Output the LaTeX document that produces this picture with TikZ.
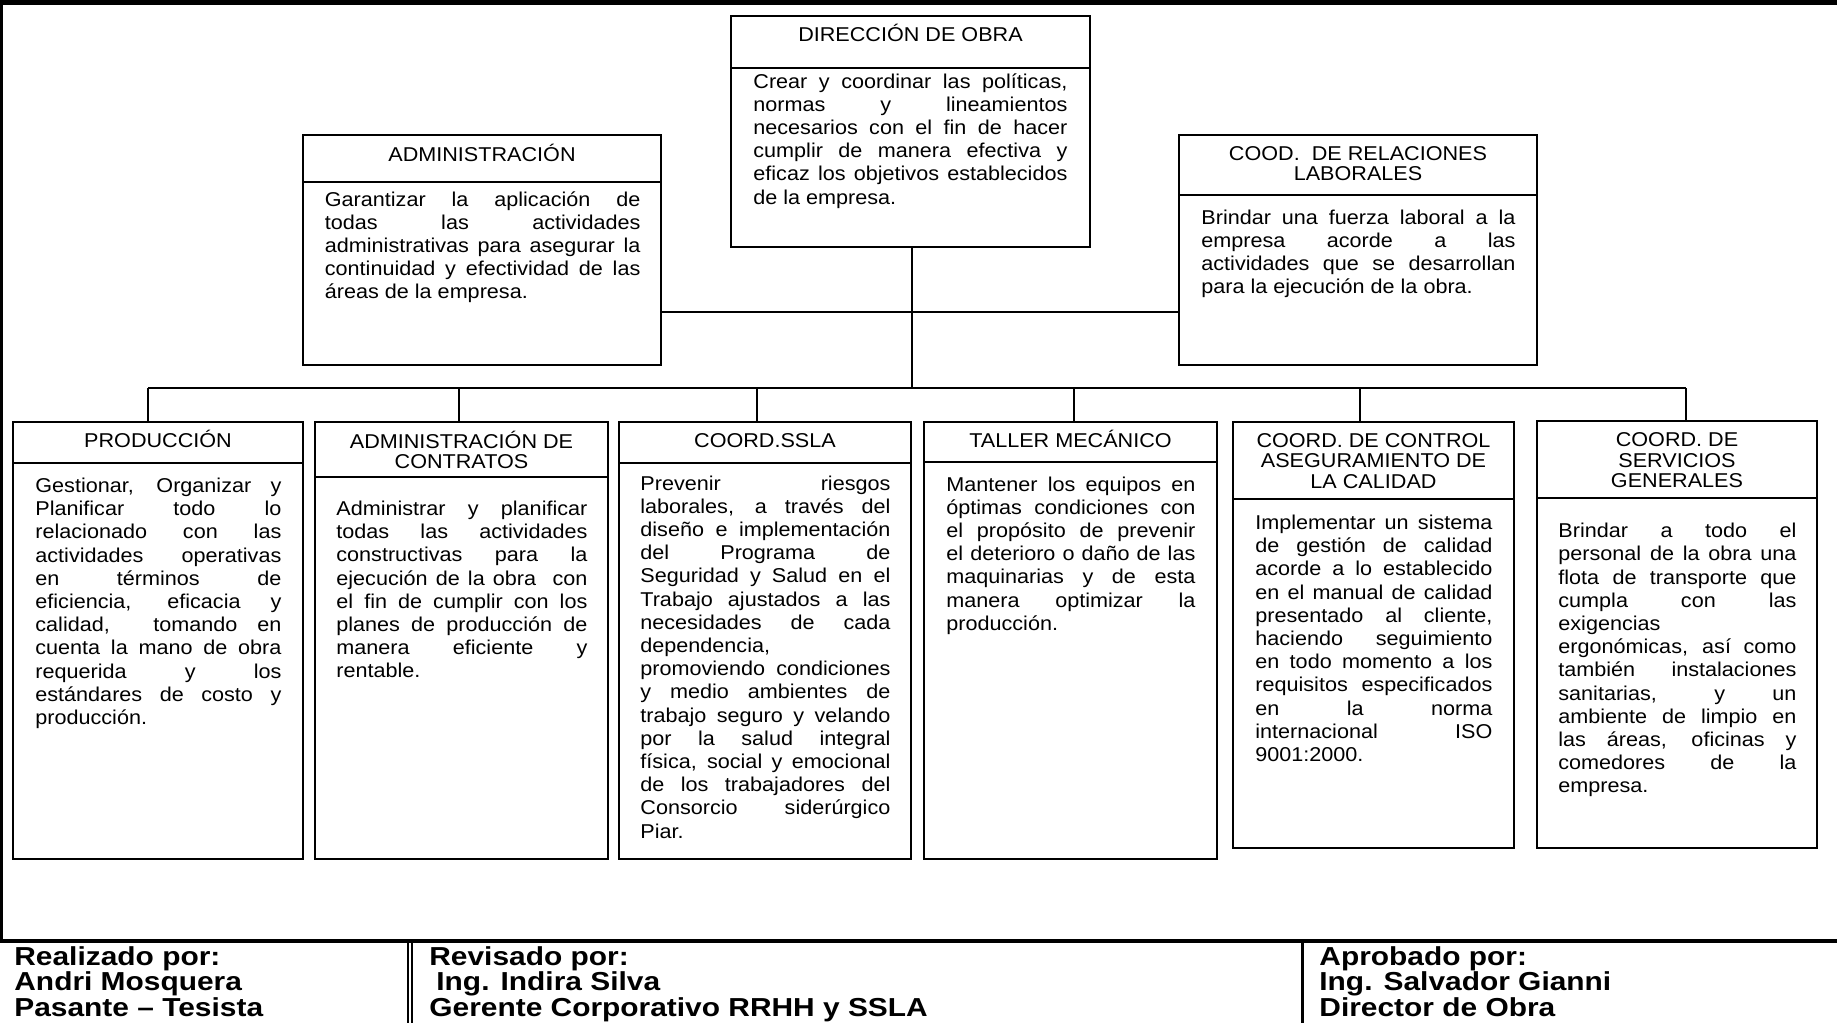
\documentclass[tikz,border=0pt]{standalone}
\usepackage{fontspec}
\setmainfont{Liberation Sans}[FakeStretch=1.08]
\newfontfamily\piefont{Liberation Sans}[FakeStretch=1.15]
\usetikzlibrary{calc}

% one justified line of a description
\newcommand\lj[1]{\makebox[\linewidth][s]{#1}\par}
% description text: name, left x, first baseline, width (pt), lines
\newcommand\cuerpo[5]{%
  \node[textocaja] (#1) at (#2,#3) {\parbox[t]{#4pt}{\fontsize{10}{11.6}\selectfont #5}};}
% box title: name, centre x, first baseline, width (pt), lines
\newcommand\titulo[5]{%
  \node[titcaja] (#1) at (#2,#3) {\parbox[t]{#4pt}{\centering\fontsize{10}{10.2}\selectfont #5}};}

\tikzset{
  caja/.style={draw, rectangle, line width=1pt, inner sep=0pt},
  conector/.style={line width=1pt},
  textocaja/.style={anchor=base west, inner sep=0pt},
  titcaja/.style={anchor=base, inner sep=0pt},
  pie/.style={anchor=base west, inner sep=0pt, font=\piefont\bfseries\fontsize{13}{12.75}\selectfont}
}

\begin{document}
\begin{tikzpicture}[x=0.5pt, y=-0.5pt]
\useasboundingbox (0,0) rectangle (1837,1023);

% page frame
\fill (0,0) rectangle (1837,5);
\fill (0,0) rectangle (3,941);

% top level
\node[caja, minimum width=179.5pt, minimum height=115.5pt] (dir) at (910.5,131.5) {};
\node[caja, minimum width=179pt, minimum height=115pt] (adm) at (482,250) {};
\node[caja, minimum width=179pt, minimum height=115pt] (rel) at (1358,250) {};

% second level
\node[caja, minimum width=145pt, minimum height=218.5pt] (prod) at (158,640.5) {};
\node[caja, minimum width=146.5pt, minimum height=218.5pt] (cont) at (461.5,640.5) {};
\node[caja, minimum width=146pt, minimum height=218.5pt] (ssla) at (765,640.5) {};
\node[caja, minimum width=146.5pt, minimum height=218.5pt] (taller) at (1070.5,640.5) {};
\node[caja, minimum width=140.5pt, minimum height=213pt] (ctrl) at (1373.5,635) {};
\node[caja, minimum width=140pt, minimum height=213.5pt] (serv) at (1677,634.5) {};

% title separators
\draw[conector] (dir.west |- 0,68) -- (dir.east |- 0,68);
\draw[conector] (adm.west |- 0,182) -- (adm.east |- 0,182);
\draw[conector] (rel.west |- 0,195) -- (rel.east |- 0,195);
\draw[conector] (prod.west |- 0,463) -- (prod.east |- 0,463);
\draw[conector] (cont.west |- 0,477) -- (cont.east |- 0,477);
\draw[conector] (ssla.west |- 0,463) -- (ssla.east |- 0,463);
\draw[conector] (taller.west |- 0,462) -- (taller.east |- 0,462);
\draw[conector] (ctrl.west |- 0,499) -- (ctrl.east |- 0,499);
\draw[conector] (serv.west |- 0,498) -- (serv.east |- 0,498);

% connectors
\coordinate (bus) at (912,388);
\coordinate (b1) at (148,388);
\coordinate (b2) at (459,388);
\coordinate (b3) at (757,388);
\coordinate (b4) at (1074,388);
\coordinate (b5) at (1360,388);
\coordinate (b6) at (1686,388);
\draw[conector] (dir.south -| bus) -- (bus);
\draw[conector] ([yshift=-31pt]adm.east) -- ([yshift=-31pt]rel.west);
\draw[conector] (b1) -- (b6);
\draw[conector] (b1) -- (b1 |- prod.north);
\draw[conector] (b2) -- (b2 |- cont.north);
\draw[conector] (b3) -- (b3 |- ssla.north);
\draw[conector] (b4) -- (b4 |- taller.north);
\draw[conector] (b5) -- (b5 |- ctrl.north);
\draw[conector] (b6) -- (b6 |- serv.north);

% titles
\titulo{dir-t}{910.5}{41.3}{175}{DIRECCIÓN DE OBRA}
\titulo{adm-t}{482}{161}{175}{ADMINISTRACIÓN}
\titulo{rel-t}{1358}{160}{175}{COOD.~ DE RELACIONES\\LABORALES}
\titulo{prod-t}{158}{447}{140}{PRODUCCIÓN}
\titulo{cont-t}{461.5}{448.3}{140}{ADMINISTRACIÓN DE\\CONTRATOS}
\titulo{ssla-t}{765}{447}{140}{COORD.SSLA}
\titulo{taller-t}{1070.5}{447.3}{140}{TALLER MECÁNICO}
\titulo{ctrl-t}{1373.5}{447.3}{138}{COORD. DE CONTROL\\ASEGURAMIENTO DE\\LA CALIDAD}
\titulo{serv-t}{1677}{446.7}{138}{COORD. DE\\SERVICIOS\\GENERALES}

% descriptions
\cuerpo{dir-c}{753}{88}{157}{%
\lj{Crear y coordinar las políticas,}
\lj{normas y lineamientos}
\lj{necesarios con el fin de hacer}
\lj{cumplir de manera efectiva y}
\lj{eficaz los objetivos establecidos}
de la empresa.}

\cuerpo{adm-c}{324.5}{206}{157.75}{%
\lj{Garantizar la aplicación de}
\lj{todas las actividades}
\lj{administrativas para asegurar la}
\lj{continuidad y efectividad de las}
áreas de la empresa.}

\cuerpo{rel-c}{1201}{224}{157}{%
\lj{Brindar una fuerza laboral a la}
\lj{empresa acorde a las}
\lj{actividades que se desarrollan}
para la ejecución de la obra.}

\cuerpo{prod-c}{35}{492.5}{123}{%
\lj{Gestionar, Organizar y}
\lj{Planificar todo lo}
\lj{relacionado con las}
\lj{actividades operativas}
\lj{en términos de}
\lj{eficiencia, eficacia y}
\lj{calidad,~ tomando en}
\lj{cuenta la mano de obra}
\lj{requerida y los}
\lj{estándares de costo y}
producción.}

\cuerpo{cont-c}{336}{515.5}{125.5}{%
\lj{Administrar y planificar}
\lj{todas las actividades}
\lj{constructivas para la}
\lj{ejecución de la obra~ con}
\lj{el fin de cumplir con los}
\lj{planes de producción de}
\lj{manera eficiente y}
rentable.}

\cuerpo{ssla-c}{640}{490}{125}{%
\lj{Prevenir riesgos}
\lj{laborales, a través del}
\lj{diseño e implementación}
\lj{del Programa de}
\lj{Seguridad y Salud en el}
\lj{Trabajo ajustados a las}
\lj{necesidades de cada}
dependencia,\par
\lj{promoviendo condiciones}
\lj{y medio ambientes de}
\lj{trabajo seguro y velando}
\lj{por la salud integral}
\lj{física, social y emocional}
\lj{de los trabajadores del}
\lj{Consorcio siderúrgico}
Piar.}

\cuerpo{taller-c}{946}{491}{124.5}{%
\lj{Mantener los equipos en}
\lj{óptimas condiciones con}
\lj{el propósito de prevenir}
\lj{el deterioro o daño de las}
\lj{maquinarias y de esta}
\lj{manera optimizar la}
producción.}

\cuerpo{ctrl-c}{1255}{529.5}{118.5}{%
\lj{Implementar un sistema}
\lj{de gestión de calidad}
\lj{acorde a lo establecido}
\lj{en el manual de calidad}
\lj{presentado al cliente,}
\lj{haciendo seguimiento}
\lj{en todo momento a los}
\lj{requisitos especificados}
\lj{en la norma}
\lj{internacional ISO}
9001:2000.}

\cuerpo{serv-c}{1558}{537.7}{119}{%
\lj{Brindar a todo el}
\lj{personal de la obra una}
\lj{flota de transporte que}
\lj{cumpla con las}
exigencias\par
\lj{ergonómicas, así como}
\lj{también instalaciones}
\lj{sanitarias, y un}
\lj{ambiente de limpio en}
\lj{las áreas, oficinas y}
\lj{comedores de la}
empresa.}

% signature table
\draw[line width=2pt] (0,941) -- (1837,941);
\draw[line width=0.6pt] (408,941) -- (408,1023);
\draw[line width=0.6pt] (412,941) -- (412,1023);
\draw[line width=1.5pt] (1302,941) -- (1302,1023);

\node[pie] (realizado) at (14,965) {\parbox[t]{190pt}{Realizado por:\par Andri Mosquera\par Pasante – Tesista}};
\node[pie] (revisado) at (429,965) {\parbox[t]{420pt}{Revisado por:\par\hspace*{3.5pt}Ing. Indira Silva\par Gerente Corporativo RRHH y SSLA}};
\node[pie] (aprobado) at (1319,965) {\parbox[t]{250pt}{Aprobado por:\par Ing. Salvador Gianni\par Director de Obra}};
\end{tikzpicture}
\end{document}
